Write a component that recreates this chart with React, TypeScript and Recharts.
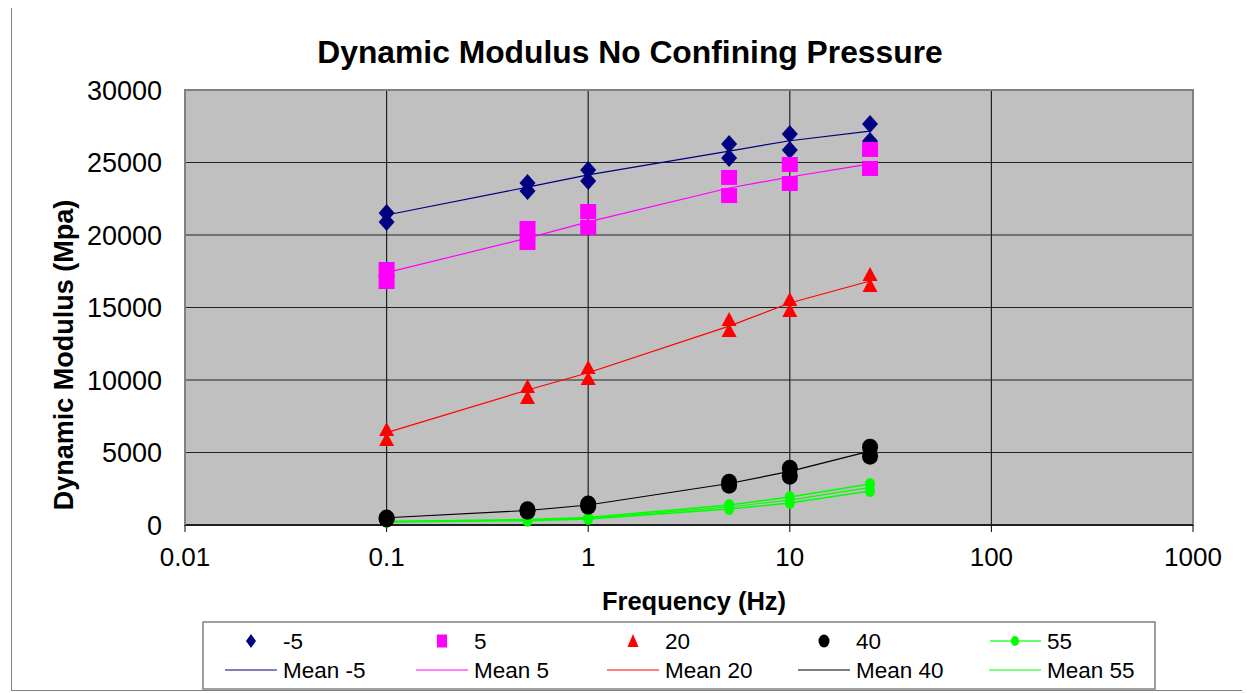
import React from 'react';
import { ScatterChart, Scatter, XAxis, YAxis, CartesianGrid, ReferenceArea } from 'recharts';

const FREQS = [0.1, 0.5, 1, 5, 10, 25];
const X_TICKS = [0.01, 0.1, 1, 10, 100, 1000];
const X_TICK_LABELS = ['0.01', '0.1', '1', '10', '100', '1000'];
const Y_TICKS = [0, 5000, 10000, 15000, 20000, 25000, 30000];

const NEG5_A = [21520, 23590, 24480, 26280, 26970, 27660];
const NEG5_B = [20900, 23030, 23720, 25310, 25860, 26480];
const MEAN_NEG5 = [21380, 23300, 24150, 25790, 26500, 27170];

const POS5_A = [17620, 20450, 21620, 23970, 24860, 25900];
const POS5_B = [16790, 19480, 20520, 22720, 23550, 24590];
const MEAN_POS5 = [17400, 19790, 20900, 23240, 24000, 24900];

const T20_A = [6550, 9520, 10830, 14140, 15520, 17240];
const T20_B = [5860, 8760, 10070, 13380, 14760, 16480];
const MEAN_20 = [6370, 9310, 10500, 13720, 15310, 16830];

const T40_A = [480, 1050, 1450, 2950, 3920, 5370];
const T40_B = [420, 950, 1300, 2750, 3370, 4750];
const MEAN_40 = [500, 1000, 1380, 2860, 3700, 5090];

const T55_A = [250, 380, 520, 1380, 1930, 2830];
const T55_B = [200, 300, 420, 1100, 1520, 2340];
const MEAN_55 = [230, 340, 470, 1240, 1720, 2590];

const TITLE = 'Dynamic Modulus No Confining Pressure';
const X_LABEL = 'Frequency (Hz)';
const Y_LABEL = 'Dynamic Modulus (Mpa)';

const LEGEND_ROW1 = ['-5', '5', '20', '40', '55'];
const LEGEND_ROW2 = ['Mean -5', 'Mean 5', 'Mean 20', 'Mean 40', 'Mean 55'];
const COLORS = ['#000080', '#FF00FF', '#FF0000', '#000000', '#00FF00'];

const toPts = (arr: number[]) => FREQS.map((f, i) => ({ x: f, y: arr[i] }));

const Diamond = (p: any) => (
  <polygon points={`${p.cx},${p.cy - 9} ${p.cx + 8},${p.cy} ${p.cx},${p.cy + 9} ${p.cx - 8},${p.cy}`} fill="#000080" />
);
const Square = (p: any) => <rect x={p.cx - 8} y={p.cy - 7.5} width={16} height={15} fill="#FF00FF" />;
const Triangle = (p: any) => (
  <polygon points={`${p.cx},${p.cy - 8} ${p.cx + 7.5},${p.cy + 6} ${p.cx - 7.5},${p.cy + 6}`} fill="#FF0000" />
);
const Circle = (p: any) => <ellipse cx={p.cx} cy={p.cy} rx={8} ry={8.5} fill="#000000" />;
const Dot = (p: any) => <ellipse cx={p.cx} cy={p.cy} rx={5} ry={6} fill="#00FF00" />;
const None = () => <g />;

const W = 1238;
const H = 686;
const PLOT_L = 174;
const PLOT_T = 85;
const PLOT_R = 1182;
const PLOT_B = 520;

function legendMarker(i: number, cx: number, cy: number) {
  const c = COLORS[i];
  if (i === 0) return <polygon points={`${cx},${cy - 7} ${cx + 5},${cy} ${cx},${cy + 7} ${cx - 5},${cy}`} fill={c} />;
  if (i === 1) return <rect x={cx - 5} y={cy - 6.5} width={10} height={13} fill={c} />;
  if (i === 2) return <polygon points={`${cx},${cy - 7} ${cx + 5.5},${cy + 6} ${cx - 5.5},${cy + 6}`} fill={c} />;
  if (i === 3) return <ellipse cx={cx} cy={cy} rx={5.5} ry={6.5} fill={c} />;
  return (
    <g>
      <line x1={cx - 25} x2={cx + 26} y1={cy} y2={cy} stroke="#66FF66" strokeWidth={2} />
      <ellipse cx={cx} cy={cy} rx={4} ry={5} fill={c} />
    </g>
  );
}

export default function App() {
  const font = '"Liberation Sans", Arial, sans-serif';
  return (
    <div style={{ position: 'relative', width: W, height: H, marginLeft: 3, marginTop: -3, fontFamily: font, background: '#fff' }}>
      <ScatterChart
        width={W}
        height={H}
        margin={{ top: PLOT_T, right: W - PLOT_R, bottom: H - PLOT_B - 40, left: PLOT_L - 80 }}
      >
        <CartesianGrid fill="#C0C0C0" fillOpacity={1} stroke="#222" strokeWidth={1.2} />
        <XAxis
          type="number"
          dataKey="x"
          scale="log"
          domain={[0.01, 1000]}
          ticks={X_TICKS}
          tickFormatter={(v: number) => X_TICK_LABELS[X_TICKS.indexOf(v)] ?? String(v)}
          height={40}
          axisLine={{ stroke: '#000', strokeWidth: 1.5 }}
          tickLine={{ stroke: '#000' }}
          tickSize={7}
          tickMargin={16}
          tick={{ fontSize: 26, fill: '#000', fontFamily: font }}
          interval={0}
        />
        <YAxis
          type="number"
          dataKey="y"
          domain={[0, 30000]}
          ticks={Y_TICKS}
          width={80}
          axisLine={{ stroke: '#808080', strokeWidth: 2 }}
          tickLine={false}
          tickSize={0}
          tickMargin={23}
          tick={{ fontSize: 27, fill: '#000', fontFamily: font }}
          interval={0}
        />
        <ReferenceArea x1={0.01} x2={1000} y1={0} y2={30000} fill="none" fillOpacity={0} stroke="#808080" strokeWidth={2} ifOverflow="visible" />
        <Scatter data={toPts(MEAN_NEG5)} line={{ stroke: '#000080', strokeWidth: 1.2 }} shape={None} isAnimationActive={false} />
        <Scatter data={toPts(MEAN_POS5)} line={{ stroke: '#FF00FF', strokeWidth: 1.2 }} shape={None} isAnimationActive={false} />
        <Scatter data={toPts(MEAN_20)} line={{ stroke: '#FF0000', strokeWidth: 1.2 }} shape={None} isAnimationActive={false} />
        <Scatter data={toPts(MEAN_40)} line={{ stroke: '#000000', strokeWidth: 1.2 }} shape={None} isAnimationActive={false} />
        <Scatter data={toPts(MEAN_55)} line={{ stroke: '#00FF00', strokeWidth: 1.2 }} shape={None} isAnimationActive={false} />
        <Scatter data={toPts(T55_A)} line={{ stroke: '#00FF00', strokeWidth: 1.5 }} shape={Dot} isAnimationActive={false} />
        <Scatter data={toPts(T55_B)} line={{ stroke: '#00FF00', strokeWidth: 1.5 }} shape={Dot} isAnimationActive={false} />
        <Scatter data={toPts(NEG5_A)} shape={Diamond} isAnimationActive={false} />
        <Scatter data={toPts(NEG5_B)} shape={Diamond} isAnimationActive={false} />
        <Scatter data={toPts(POS5_A)} shape={Square} isAnimationActive={false} />
        <Scatter data={toPts(POS5_B)} shape={Square} isAnimationActive={false} />
        <Scatter data={toPts(T20_A)} shape={Triangle} isAnimationActive={false} />
        <Scatter data={toPts(T20_B)} shape={Triangle} isAnimationActive={false} />
        <Scatter data={toPts(T40_A)} shape={Circle} isAnimationActive={false} />
        <Scatter data={toPts(T40_B)} shape={Circle} isAnimationActive={false} />
      </ScatterChart>
      <svg width={W} height={H} style={{ position: 'absolute', left: 0, top: 0, pointerEvents: 'none' }} fontFamily={font}>
        <rect x={0.5} y={0.5} width={W - 1} height={H - 1} fill="none" stroke="#808080" strokeWidth={1} />
        <text x={W / 2} y={58} textAnchor="middle" fontSize={31.8} fontWeight="bold" fill="#000">{TITLE}</text>
        <text x={683} y={605} textAnchor="middle" fontSize={25.5} fontWeight="bold" fill="#000">{X_LABEL}</text>
        <text transform="translate(62,350) rotate(-90)" textAnchor="middle" fontSize={27} fontWeight="bold" fill="#000">{Y_LABEL}</text>
        <rect x={192} y={617} width={952} height={67} fill="#fff" stroke="#808080" strokeWidth={1.5} />
        {LEGEND_ROW1.map((lab, i) => {
          const markerX = 240 + i * 191;
          return (
            <g key={'r1' + i}>
              {legendMarker(i, i === 4 ? 1004 : markerX, 636)}
              <text x={272 + i * 191} y={644} fontSize={22.5} fill="#000">{lab}</text>
            </g>
          );
        })}
        {LEGEND_ROW2.map((lab, i) => (
          <g key={'r2' + i}>
            <line x1={214 + i * 191} x2={266 + i * 191} y1={665} y2={665} stroke={COLORS[i]} strokeWidth={1.2} />
            <text x={272 + i * 191} y={673} fontSize={22.5} fill="#000">{lab}</text>
          </g>
        ))}
      </svg>
    </div>
  );
}
